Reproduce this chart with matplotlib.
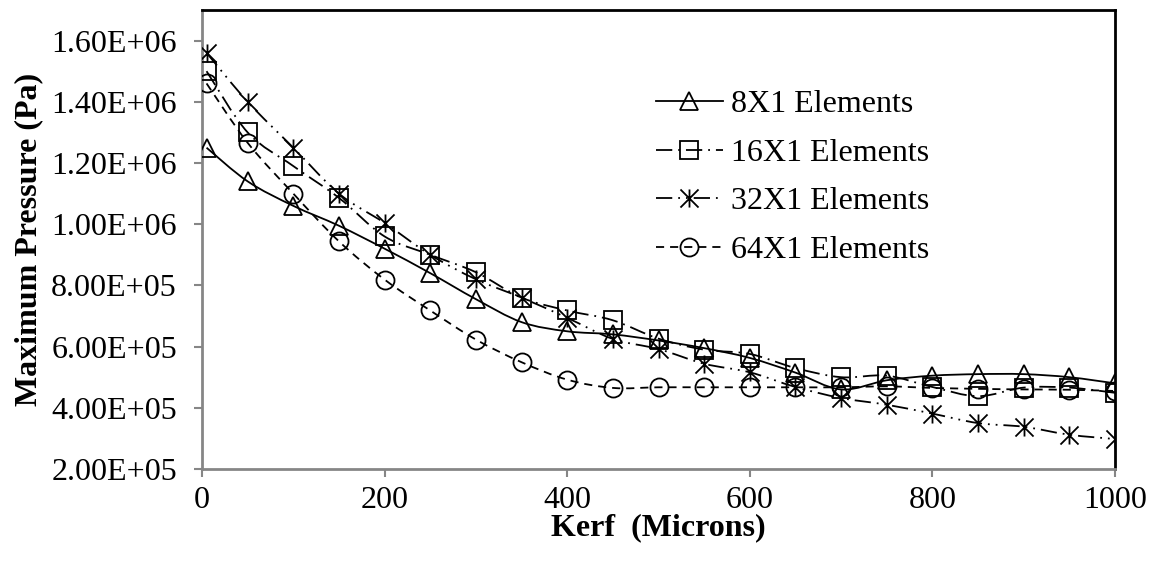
import numpy as np
import matplotlib
matplotlib.use("Agg")
import matplotlib.pyplot as plt
from matplotlib.path import Path
from matplotlib.patches import PathPatch
from matplotlib.lines import Line2D

# ---- data ----
kerf = [5, 50, 100, 150, 200, 250, 300, 350, 400, 450, 500, 550, 600, 650,
        700, 750, 800, 850, 900, 950, 1000]
p8 = [1.25e6, 1.14e6, 1.06e6, 0.995e6, 0.92e6, 0.84e6, 0.755e6, 0.68e6, 0.65e6,
      0.64e6, 0.62e6, 0.595e6, 0.563e6, 0.515e6, 0.46e6, 0.49e6, 0.505e6, 0.51e6,
      0.51e6, 0.50e6, 0.48e6]
p16 = [1.50e6, 1.30e6, 1.19e6, 1.086e6, 0.96e6, 0.90e6, 0.843e6, 0.76e6, 0.718e6,
       0.686e6, 0.626e6, 0.59e6, 0.576e6, 0.53e6, 0.50e6, 0.505e6, 0.468e6, 0.438e6,
       0.466e6, 0.466e6, 0.449e6]
p32 = [1.56e6, 1.40e6, 1.25e6, 1.10e6, 1.004e6, 0.90e6, 0.82e6, 0.76e6, 0.694e6,
       0.625e6, 0.592e6, 0.544e6, 0.516e6, 0.468e6, 0.432e6, 0.41e6, 0.381e6, 0.35e6,
       0.338e6, 0.312e6, 0.298e6]
p64 = [1.46e6, 1.266e6, 1.10e6, 0.944e6, 0.819e6, 0.718e6, 0.623e6, 0.549e6, 0.492e6,
       0.465e6, 0.467e6, 0.467e6, 0.467e6, 0.467e6, 0.467e6, 0.47e6, 0.465e6, 0.462e6,
       0.46e6, 0.459e6, 0.455e6]
labels = ["8X1 Elements", "16X1 Elements", "32X1 Elements", "64X1 Elements"]
xticks = [0, 200, 400, 600, 800, 1000]
yticks = [2e5, 4e5, 6e5, 8e5, 1.0e6, 1.2e6, 1.4e6, 1.6e6]
ytick_labels = ["2.00E+05", "4.00E+05", "6.00E+05", "8.00E+05",
                "1.00E+06", "1.20E+06", "1.40E+06", "1.60E+06"]

plt.rcParams['font.family'] = ['Liberation Serif', 'DejaVu Serif']

star = Path([(0, -1), (0, 1), (-1, -1), (1, 1), (-1, 1), (1, -1)],
            [Path.MOVETO, Path.LINETO, Path.MOVETO, Path.LINETO, Path.MOVETO, Path.LINETO])

styles = [
    dict(marker='^', ls='-', ms=13),
    dict(marker='s', ls=(0, (9, 3.3, 1, 3.3)), ms=12.5),
    dict(marker=star, ls=(0, (9, 3.3, 1, 3.3, 1, 3.3)), ms=13),
    dict(marker='o', ls=(0, (4.5, 3.3)), ms=13),
]
LW = 1.3
FS = 23


def smooth_path(x, y):
    x = np.asarray(x, float)
    y = np.asarray(y, float)
    n = len(x)
    verts = [(x[0], y[0])]
    codes = [Path.MOVETO]
    for i in range(n - 1):
        i0 = max(i - 1, 0)
        i3 = min(i + 2, n - 1)
        c1 = (x[i] + (x[i + 1] - x[i0]) / 6, y[i] + (y[i + 1] - y[i0]) / 6)
        c2 = (x[i + 1] - (x[i3] - x[i]) / 6, y[i + 1] - (y[i3] - y[i]) / 6)
        verts += [c1, c2, (x[i + 1], y[i + 1])]
        codes += [Path.CURVE4] * 3
    return Path(verts, codes)


fig = plt.figure(figsize=(11.63, 5.69), dpi=100)
ax = fig.add_axes([202 / 1163, 1 - 469 / 569, (1115 - 202) / 1163, (469 - 10) / 569])

handles = []
for series, st, lab in zip([p8, p16, p32, p64], styles, labels):
    patch = PathPatch(smooth_path(kerf, series), fill=False, edgecolor='black',
                      lw=LW, linestyle=st['ls'], zorder=2)
    ax.add_patch(patch)
    ax.plot(kerf, series, linestyle='none', marker=st['marker'], ms=st['ms'],
            mfc='none', mec='black', mew=LW, zorder=3)
    handles.append(Line2D([], [], color='black', lw=LW, linestyle=st['ls'],
                          marker=st['marker'], ms=st['ms'], mfc='none',
                          mec='black', mew=LW))

ax.set_xlim(0, 1000)
ax.set_ylim(2e5, 1.7e6)
ax.set_xticks(xticks)
ax.set_yticks(yticks)
ax.set_yticklabels(ytick_labels)
ax.tick_params(axis='both', direction='out', length=6, width=1.5, color='#868686',
               labelsize=FS)
ax.tick_params(axis='y', pad=12)
ax.tick_params(axis='x', pad=6)
for s in ['left', 'bottom']:
    ax.spines[s].set_color('#868686')
    ax.spines[s].set_linewidth(2)
for s in ['top', 'right']:
    ax.spines[s].set_color('black')
    ax.spines[s].set_linewidth(2)

ax.set_xlabel("Kerf  (Microns)", fontsize=FS, fontweight='bold', labelpad=-1)
ax.set_ylabel("Maximum Pressure (Pa)", fontsize=FS, fontweight='bold', labelpad=6)

ax.legend(handles, labels, loc='upper left', bbox_to_anchor=(0.497, 0.8256),
          frameon=False, fontsize=FS, handlelength=2.1, handletextpad=0.25,
          labelspacing=0.6, borderpad=0, borderaxespad=0)

fig.savefig("out.png", dpi=100)
